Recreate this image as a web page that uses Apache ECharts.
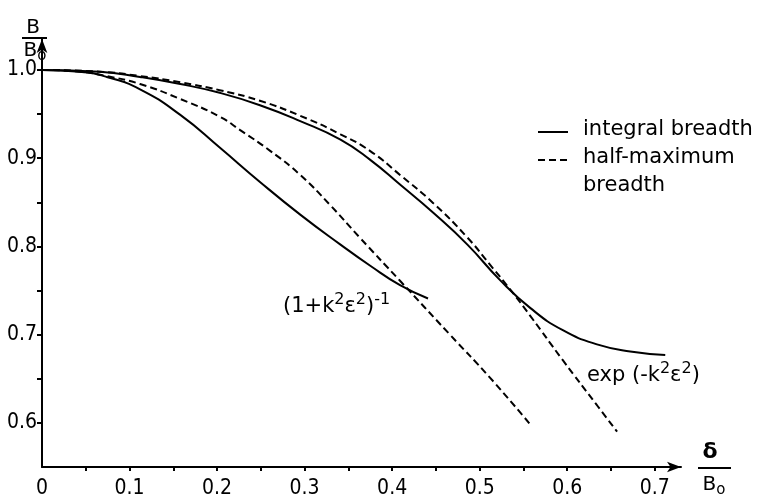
<!DOCTYPE html>
<html>
<head>
<meta charset="utf-8">
<script src="https://cdn.jsdelivr.net/npm/echarts@6/dist/echarts.min.js"></script>
<style>
html, body { margin: 0; background: #fff; }
#chart { width: 761px; height: 499px; }
</style>
</head>
<body>
<div id="chart"></div>
<script>
// B/B0 against delta/B0
var expIntegral = [[0, 1.0], [0.066, 0.998], [0.112, 0.992], [0.158, 0.984], [0.203, 0.974], [0.249, 0.960],
    [0.295, 0.942], [0.341, 0.921], [0.375, 0.898], [0.409, 0.870], [0.447, 0.838], [0.486, 0.802],
    [0.523, 0.762], [0.558, 0.730], [0.595, 0.705], [0.634, 0.689], [0.672, 0.681], [0.712, 0.677]];
var expHalfMax = [[0, 1.0], [0.066, 0.998], [0.112, 0.993], [0.158, 0.986], [0.203, 0.977], [0.249, 0.965],
    [0.295, 0.948], [0.341, 0.927], [0.375, 0.908], [0.409, 0.881], [0.447, 0.849], [0.486, 0.810],
    [0.512, 0.779], [0.535, 0.751], [0.558, 0.721], [0.595, 0.671], [0.634, 0.620], [0.657, 0.590]];
var lorIntegral = [[0, 1.0], [0.043, 0.998], [0.074, 0.992], [0.112, 0.978], [0.158, 0.949], [0.203, 0.912],
    [0.249, 0.873], [0.295, 0.836], [0.341, 0.802], [0.375, 0.778], [0.409, 0.756], [0.441, 0.741]];
var lorHalfMax = [[0, 1.0], [0.043, 0.998], [0.074, 0.993], [0.112, 0.984], [0.158, 0.967], [0.203, 0.947],
    [0.226, 0.932], [0.261, 0.908], [0.295, 0.881], [0.329, 0.847], [0.363, 0.810], [0.409, 0.761],
    [0.466, 0.700], [0.512, 0.651], [0.558, 0.598]];

var xLabels = [0, 0.1, 0.2, 0.3, 0.4, 0.5, 0.6, 0.7];
var xTicks = [0.05, 0.1, 0.15, 0.2, 0.25, 0.3, 0.35, 0.4, 0.45, 0.5, 0.55, 0.6, 0.65, 0.7];
var yLabels = [0.6, 0.7, 0.8, 0.9, 1.0];
var yTicks = [0.6, 0.65, 0.7, 0.75, 0.8, 0.85, 0.9, 0.95, 1.0];

var ink = '#000';
var tickFont = "'DejaVu Sans Condensed', 'DejaVu Sans', sans-serif";
var textFont = "'DejaVu Sans', sans-serif";
var dash = [7, 4];

var rich = {
    t: { fontSize: 21, fontFamily: textFont, color: ink },
    s: { fontSize: 16, fontFamily: textFont, color: ink, padding: [0, 0, 15, 0] },
    b: { fontSize: 20, fontFamily: textFont, color: ink },
    o: { fontSize: 15, fontFamily: textFont, color: ink, padding: [10, 0, 0, 0] }
};

var myChart = echarts.init(document.getElementById('chart'));

function curve(name, data, type) {
    return {
        name: name,
        type: 'line',
        data: data,
        smooth: 0.5,
        showSymbol: false,
        silent: true,
        lineStyle: { color: ink, width: 2, type: type }
    };
}

var option = {
    backgroundColor: '#fff',
    animation: false,
    grid: { left: 42, right: 80, top: 39, bottom: 32 },
    xAxis: {
        type: 'value',
        min: 0,
        max: 0.73,
        splitLine: { show: false },
        axisLine: {
            onZero: false,
            symbol: ['none', 'arrow'],
            symbolSize: [8, 14],
            lineStyle: { color: ink, width: 2 }
        },
        axisTick: { customValues: xTicks, length: 4, lineStyle: { color: ink, width: 2 } },
        axisLabel: {
            customValues: xLabels,
            margin: 11,
            color: ink,
            fontSize: 21,
            fontFamily: tickFont,
            formatter: function (v) { return v === 0 ? '0' : v.toFixed(1); }
        }
    },
    yAxis: {
        type: 'value',
        min: 0.55,
        max: 1.035,
        splitLine: { show: false },
        axisLine: {
            onZero: false,
            symbol: ['none', 'arrow'],
            symbolSize: [8, 14],
            lineStyle: { color: ink, width: 2 }
        },
        axisTick: { customValues: yTicks, length: 5, lineStyle: { color: ink, width: 2 } },
        axisLabel: {
            customValues: yLabels,
            margin: 5,
            color: ink,
            fontSize: 21,
            fontFamily: tickFont,
            formatter: function (v) { return v.toFixed(1); }
        }
    },
    series: [
        curve('integral breadth', expIntegral, 'solid'),
        curve('half-maximum breadth', expHalfMax, dash),
        curve('integral breadth', lorIntegral, 'solid'),
        curve('half-maximum breadth', lorHalfMax, dash)
    ],
    graphic: [
        // y axis name B/Bo
        { type: 'text', z: 100, x: 33, y: 28, style: { text: 'B', font: '20px ' + textFont, fill: ink, align: 'center', verticalAlign: 'middle' } },
        { type: 'line', z: 100, shape: { x1: 22, y1: 38, x2: 47, y2: 38 }, style: { stroke: ink, lineWidth: 2 } },
        { type: 'text', z: 100, x: 35, y: 51, style: { text: '{b|B}{o|o}', rich: rich, align: 'center', verticalAlign: 'middle' } },
        // x axis name delta/Bo
        { type: 'text', x: 710, y: 452, style: { text: 'δ', font: 'bold 22px ' + textFont, fill: ink, align: 'center', verticalAlign: 'middle' } },
        { type: 'line', shape: { x1: 698, y1: 468, x2: 731, y2: 468 }, style: { stroke: ink, lineWidth: 2 } },
        { type: 'text', x: 714, y: 485, style: { text: '{b|B}{o|o}', rich: rich, align: 'center', verticalAlign: 'middle' } },
        // legend
        { type: 'line', shape: { x1: 538, y1: 132, x2: 568, y2: 132 }, style: { stroke: ink, lineWidth: 2 } },
        { type: 'text', x: 583, y: 130, style: { text: 'integral breadth', font: '21px ' + textFont, fill: ink, verticalAlign: 'middle' } },
        { type: 'line', shape: { x1: 538, y1: 160, x2: 570, y2: 160 }, style: { stroke: ink, lineWidth: 2, lineDash: dash } },
        { type: 'text', x: 583, y: 158, style: { text: 'half-maximum', font: '21px ' + textFont, fill: ink, verticalAlign: 'middle' } },
        { type: 'text', x: 583, y: 186, style: { text: 'breadth', font: '21px ' + textFont, fill: ink, verticalAlign: 'middle' } },
        // curve labels
        { type: 'text', x: 283, y: 307, style: { text: '{t|(1+k}{s|2}{t|ε}{s|2}{t|)}{s|-1}', rich: rich, verticalAlign: 'middle' } },
        { type: 'text', x: 587, y: 376, style: { text: '{t|exp (-k}{s|2}{t|ε}{s|2}{t|)}', rich: rich, verticalAlign: 'middle' } }
    ]
};

myChart.setOption(option);
window.addEventListener('resize', function () {
    myChart.resize();
});
</script>
</body>
</html>
